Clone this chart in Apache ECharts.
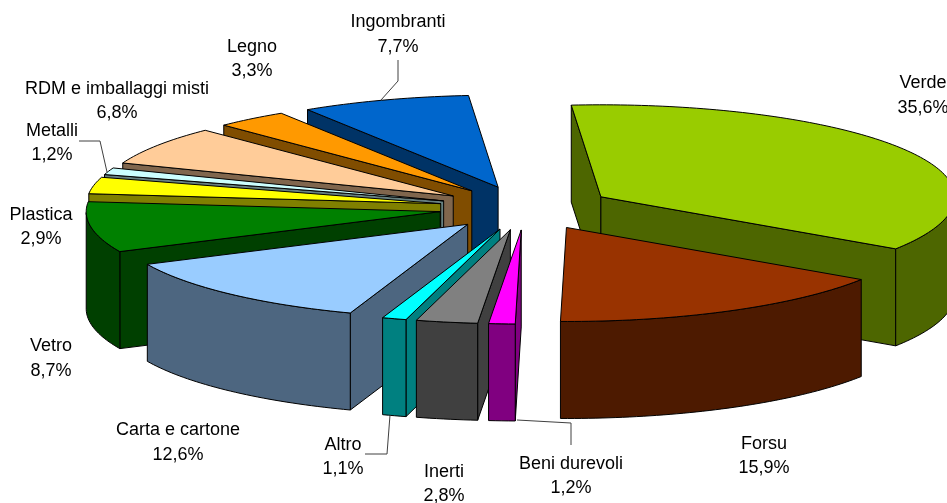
<!DOCTYPE html>
<html>
<head>
<meta charset="utf-8">
<style>html,body{margin:0;padding:0;background:#fff}#c{width:947px;height:503px}</style>
<script src="https://cdn.jsdelivr.net/npm/echarts@6/dist/echarts.min.js"></script>
</head>
<body>
<div id="c"></div>
<script>
const categories = ['Verde','Forsu','Beni durevoli','Inerti','Altro','Carta e cartone','Vetro','Plastica','Metalli','RDM e imballaggi misti','Legno','Ingombranti'];
const values = [35.6,15.9,1.2,2.8,1.1,12.6,8.7,2.9,1.2,6.8,3.3,7.7];
const topColors = ['#99CC00','#993300','#FF00FF','#808080','#00FFFF','#99CCFF','#008000','#FFFF00','#CCFFFF','#FFCC99','#FF9900','#0066CC'];
const sideColors = ['#4D6600','#4D1A00','#800080','#404040','#008080','#4D6680','#004000','#808000','#668080','#80664D','#804D00','#003366'];

// Projection of the tilted, exploded pie
const pie = {cx:526, cy:208, rx:354, ryBack:92, ryFront:94, ex:87, ey:22, depth:97, start:-4.8};
// Label placement (centre x, first line y, second line y)
const labelPos = [[923,83,108],[764,444,468],[571,464,488],[444,472,496],[343,445,469],[178,430,455],[51,346,371],[41,215,239],[52,131,155],[117,89,113],[252,47,71],[398,22,47]];
const leaders = [
  [[398,60],[398,81],[381,100]],
  [[79,141],[100,141],[107,172]],
  [[571,445],[571,423],[517,420]],
  [[365,454],[387,454],[390,415]]
];

const total = values.reduce((a,b)=>a+b,0);
const slices = [];
let acc = 0;
values.forEach((v,i)=>{
  const a0 = (pie.start + acc/total*360)*Math.PI/180;
  acc += v;
  const a1 = (pie.start + acc/total*360)*Math.PI/180;
  slices.push({i,a0,a1,mid:(a0+a1)/2});
});
const order = slices.slice().sort((p,q)=>Math.cos(q.mid)-Math.cos(p.mid));

function renderSlice(params, api){
  const s = slices[api.value(0)];
  const tx = pie.cx + pie.ex*Math.sin(s.mid), ty = pie.cy - pie.ey*Math.cos(s.mid);
  const rim = t => {
    const c = Math.cos(t);
    return [tx + pie.rx*Math.sin(t), ty - (c>0?pie.ryBack:pie.ryFront)*c];
  };
  const down = p => [p[0], p[1] + pie.depth];
  const n = Math.max(4, Math.ceil((s.a1-s.a0)/0.02));
  const arc = [];
  for(let k=0;k<=n;k++) arc.push(rim(s.a0+(s.a1-s.a0)*k/n));
  const tip = [tx,ty];
  const kids = [];
  const st = c => ({fill:c, stroke:'#000', lineWidth:1, lineJoin:'round'});
  const side = sideColors[s.i], top = topColors[s.i];
  const quad = p => ({type:'polygon', shape:{points:[tip,p,down(p),down(tip)]}, style:st(side)});
  if(Math.sin(s.a0)<0) kids.push(quad(arc[0]));
  if(Math.sin(s.a1)>0) kids.push(quad(arc[n]));
  // front-facing part of outer wall
  let run = [];
  const flush = ()=>{
    if(run.length>1){
      kids.push({type:'polygon', shape:{points:run.concat(run.slice().reverse().map(down))}, style:st(side)});
    }
    run = [];
  };
  for(let k=0;k<=n;k++){
    const t = s.a0+(s.a1-s.a0)*k/n;
    if(Math.cos(t)<=0) run.push(arc[k]); else flush();
  }
  flush();
  kids.push({type:'polygon', shape:{points:[tip].concat(arc)}, style:st(top)});
  return {type:'group', children:kids};
}

const graphics = [];
categories.forEach((name,i)=>{
  const pos = labelPos[i];
  const tx = (t,y)=>({type:'text', x:pos[0], y:y, style:{text:t, fill:'#000', font:'18px "Liberation Sans", Arial, sans-serif', textAlign:'center', textVerticalAlign:'middle'}, z:10});
  graphics.push(tx(name,pos[1]));
  graphics.push(tx(values[i].toFixed(1).replace('.',',')+'%',pos[2]));
});
leaders.forEach(l=>graphics.push({type:'polyline', shape:{points:l}, style:{stroke:'#404040', lineWidth:1, fill:null}, z:9}));

const chart = echarts.init(document.getElementById('c'), null, {renderer:'canvas'});
chart.setOption({
  animation:false,
  backgroundColor:'#fff',
  graphic:graphics,
  series:[{
    type:'custom',
    coordinateSystem:'none',
    renderItem:renderSlice,
    clip:false,
    silent:true,
    data:order.map(s=>[s.i, values[s.i]]),
    encode:{}
  }]
});
</script>
</body>
</html>
